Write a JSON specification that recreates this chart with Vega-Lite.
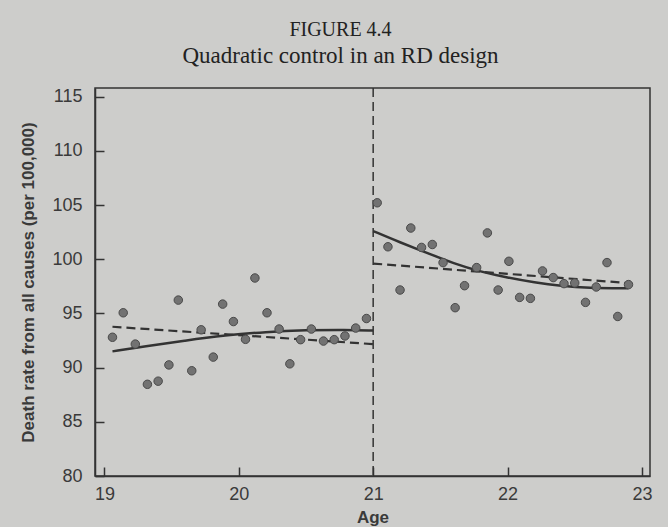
{
  "$schema": "https://vega.github.io/schema/vega-lite/v6.json",
  "width": 555,
  "height": 388,
  "autosize": {"type": "none"},
  "padding": {"left": 95, "top": 88, "right": 18, "bottom": 51},
  "background": "#cdcdcb",
  "title": {
    "text": "FIGURE 4.4",
    "subtitle": "Quadratic control in an RD design",
    "font": "Liberation Serif",
    "fontSize": 20,
    "fontWeight": "normal",
    "color": "#222222",
    "subtitleFont": "Liberation Serif",
    "subtitleFontSize": 23,
    "subtitleColor": "#222222",
    "subtitlePadding": 5,
    "anchor": "middle",
    "dx": -32,
    "offset": 19
  },
  "config": {
    "view": {"stroke": "#333333", "strokeWidth": 1.5},
    "axis": {
      "domainColor": "#333333",
      "domainWidth": 1.5,
      "tickColor": "#333333",
      "tickWidth": 1.5,
      "tickSize": -9,
      "grid": false,
      "labelFont": "Liberation Sans",
      "labelFontSize": 18,
      "labelColor": "#3a3a3a",
      "titleFont": "Liberation Sans",
      "titleFontSize": 17,
      "titleFontWeight": "bold",
      "titleColor": "#3a3a3a"
    }
  },
  "datasets": {
    "points": [
      {"age": 19.06, "rate": 92.80}, {"age": 19.14, "rate": 95.06}, {"age": 19.23, "rate": 92.17},
      {"age": 19.32, "rate": 88.46}, {"age": 19.40, "rate": 88.75}, {"age": 19.48, "rate": 90.25},
      {"age": 19.55, "rate": 96.23}, {"age": 19.65, "rate": 89.71}, {"age": 19.72, "rate": 93.49},
      {"age": 19.81, "rate": 90.97}, {"age": 19.88, "rate": 95.86}, {"age": 19.96, "rate": 94.25},
      {"age": 20.05, "rate": 92.61}, {"age": 20.12, "rate": 98.27}, {"age": 20.21, "rate": 95.06},
      {"age": 20.30, "rate": 93.56}, {"age": 20.38, "rate": 90.35}, {"age": 20.46, "rate": 92.58},
      {"age": 20.54, "rate": 93.56}, {"age": 20.63, "rate": 92.45}, {"age": 20.71, "rate": 92.58},
      {"age": 20.79, "rate": 92.92}, {"age": 20.87, "rate": 93.65}, {"age": 20.95, "rate": 94.53},
      {"age": 21.03, "rate": 105.21}, {"age": 21.11, "rate": 101.15}, {"age": 21.20, "rate": 97.16},
      {"age": 21.28, "rate": 102.88}, {"age": 21.36, "rate": 101.09}, {"age": 21.44, "rate": 101.36},
      {"age": 21.52, "rate": 99.69}, {"age": 21.61, "rate": 95.53}, {"age": 21.68, "rate": 97.56},
      {"age": 21.77, "rate": 99.23}, {"age": 21.85, "rate": 102.43}, {"age": 21.93, "rate": 97.16},
      {"age": 22.01, "rate": 99.81}, {"age": 22.09, "rate": 96.48}, {"age": 22.17, "rate": 96.39},
      {"age": 22.26, "rate": 98.92}, {"age": 22.34, "rate": 98.31}, {"age": 22.42, "rate": 97.75},
      {"age": 22.50, "rate": 97.81}, {"age": 22.58, "rate": 96.02}, {"age": 22.66, "rate": 97.44},
      {"age": 22.74, "rate": 99.69}, {"age": 22.82, "rate": 94.72}, {"age": 22.90, "rate": 97.66}
    ],
    "quad": [
      {"seg": "left", "age": 19.06, "rate": 91.5},
      {"seg": "left", "age": 19.3, "rate": 91.95},
      {"seg": "left", "age": 19.6, "rate": 92.5},
      {"seg": "left", "age": 19.9, "rate": 92.98},
      {"seg": "left", "age": 20.2, "rate": 93.3},
      {"seg": "left", "age": 20.5, "rate": 93.46},
      {"seg": "left", "age": 20.8, "rate": 93.5},
      {"seg": "left", "age": 21.0, "rate": 93.42},
      {"seg": "right", "age": 21.0, "rate": 102.6},
      {"seg": "right", "age": 21.2, "rate": 101.55},
      {"seg": "right", "age": 21.4, "rate": 100.6},
      {"seg": "right", "age": 21.6, "rate": 99.6},
      {"seg": "right", "age": 21.8, "rate": 98.85},
      {"seg": "right", "age": 22.0, "rate": 98.3},
      {"seg": "right", "age": 22.2, "rate": 97.85},
      {"seg": "right", "age": 22.4, "rate": 97.52},
      {"seg": "right", "age": 22.6, "rate": 97.35},
      {"seg": "right", "age": 22.9, "rate": 97.32}
    ],
    "lin": [
      {"seg": "left", "age": 19.06, "rate": 93.77},
      {"seg": "left", "age": 21.0, "rate": 92.17},
      {"seg": "right", "age": 21.0, "rate": 99.6},
      {"seg": "right", "age": 22.9, "rate": 97.8}
    ]
  },
  "layer": [
    {
      "data": {"values": [{"cut": 21}]},
      "mark": {"type": "rule", "stroke": "#333333", "strokeWidth": 1.5, "strokeDash": [9, 5]},
      "encoding": {
        "x": {"field": "cut", "type": "quantitative"}
      }
    },
    {
      "data": {"name": "lin"},
      "mark": {"type": "line", "stroke": "#333333", "strokeWidth": 2.2, "strokeDash": [9, 5]},
      "encoding": {
        "x": {"field": "age", "type": "quantitative"},
        "y": {"field": "rate", "type": "quantitative"},
        "detail": {"field": "seg"}
      }
    },
    {
      "data": {"name": "quad"},
      "mark": {"type": "line", "stroke": "#333333", "strokeWidth": 2.5, "interpolate": "basis"},
      "encoding": {
        "x": {"field": "age", "type": "quantitative"},
        "y": {"field": "rate", "type": "quantitative"},
        "detail": {"field": "seg"}
      }
    },
    {
      "data": {"name": "points"},
      "mark": {"type": "circle", "size": 72, "fill": "#727272", "stroke": "#4a4a4a", "strokeWidth": 1, "opacity": 1},
      "encoding": {
        "x": {
          "field": "age", "type": "quantitative",
          "scale": {"domain": [18.93, 23.06], "nice": false, "zero": false},
          "axis": {"title": "Age", "values": [19, 20, 21, 22, 23], "format": "d", "labelPadding": 18, "titlePadding": 6}
        },
        "y": {
          "field": "rate", "type": "quantitative",
          "scale": {"domain": [80, 115.8], "nice": false, "zero": false},
          "axis": {"title": "Death rate from all causes (per 100,000)", "values": [80, 85, 90, 95, 100, 105, 110, 115], "labelPadding": 22, "titlePadding": 14}
        }
      }
    }
  ]
}
